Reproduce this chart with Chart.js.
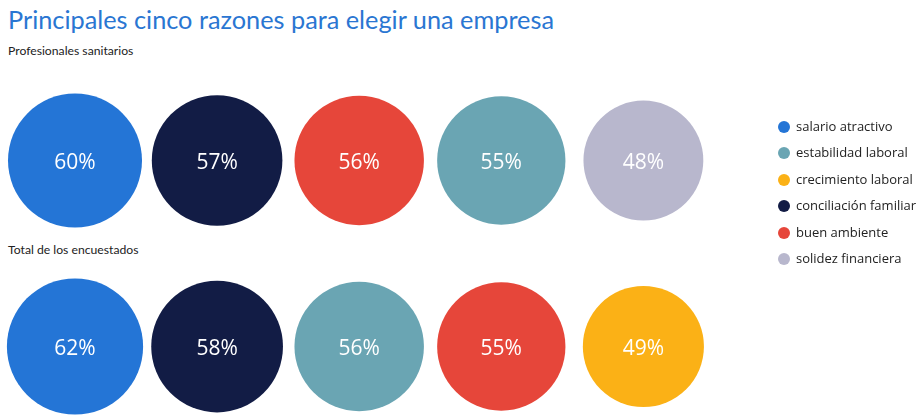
<!DOCTYPE html>
<html>
<head>
<meta charset="utf-8">
<script src="https://cdn.jsdelivr.net/npm/chart.js@4"></script>
<style>
  html, body { margin: 0; padding: 0; background: #fff; }
  #wrap { position: relative; width: 923px; height: 418px; overflow: hidden; }
  #chart { position: absolute; left: 0; top: 0; }
  .title { position: absolute; left: 8px; top: 4px; font: 25.3px "Lato", sans-serif; color: #2a76d2; white-space: nowrap; }
  .sub { position: absolute; left: 8px; font: 12.2px "Lato", sans-serif; color: #222; white-space: nowrap; }
  #legend { position: absolute; left: 778px; top: 117px; font: 13px "Open Sans", sans-serif; color: #222; }
  #legend div { height: 26.4px; line-height: 18px; white-space: nowrap; }
  #legend span { display: inline-block; width: 12px; height: 12px; border-radius: 50%; margin-right: 6px; vertical-align: -2px; }
</style>
</head>
<body>
<div id="wrap">
  <div class="title">Principales cinco razones para elegir una empresa</div>
  <div class="sub" style="top:43px">Profesionales sanitarios</div>
  <div class="sub" style="top:242px">Total de los encuestados</div>
  <canvas id="chart" width="923" height="418"></canvas>
  <div id="legend"></div>
</div>
<script>
// categorías y valores (%)
const categories = ["salario atractivo", "estabilidad laboral", "crecimiento laboral",
                    "conciliación familiar", "buen ambiente", "solidez financiera"];
const colors = ["#2475d6", "#6aa5b3", "#fbb116", "#121c45", "#e6463a", "#b8b7cd"];
const groups = ["Profesionales sanitarios", "Total de los encuestados"];
const sanitarios = [60, 55, null, 57, 56, 48];
const encuestados = [62, 56, 49, 58, 55, null];

const rows = [sanitarios, encuestados];

// posición en la fila = orden de mayor a menor
function rankOf(values, i) {
    let order = values.map((v, k) => k).filter(k => values[k] != null)
        .sort((a, b) => values[b] - values[a]);
    return order.indexOf(i);
}

let datasets = categories.map((cat, i) => {
    let pts = [];
    rows.forEach((vals, r) => {
        if (vals[i] != null) pts.push({ x: rankOf(vals, i), y: r, v: vals[i] });
    });
    return {
        label: cat,
        data: pts,
        backgroundColor: colors[i],
        borderWidth: 0,
        hoverBorderWidth: 0,
        clip: false,
        radius: c => 8.65 * Math.sqrt(c.raw.v)
    };
});

// etiquetas dentro de las burbujas
const bubbleLabels = {
    id: "bubbleLabels",
    afterDatasetsDraw(chart) {
        let ctx = chart.ctx;
        ctx.save();
        ctx.fillStyle = "#fff";
        ctx.font = "21px 'Open Sans', sans-serif";
        ctx.textAlign = "center";
        ctx.textBaseline = "middle";
        chart.data.datasets.forEach((ds, i) => {
            chart.getDatasetMeta(i).data.forEach((el, j) => {
                ctx.fillText(ds.data[j].v + "%", el.x, el.y + 3);
            });
        });
        ctx.restore();
    }
};

new Chart(document.getElementById("chart"), {
    type: "bubble",
    data: { datasets: datasets },
    options: {
        responsive: false,
        animation: false,
        events: [],
        layout: { padding: { left: 70, right: 208, top: 70, bottom: 70 } },
        plugins: { legend: { display: false }, tooltip: { enabled: false } },
        scales: {
            x: { type: "linear", min: -0.0352, max: 4.504, display: false },
            y: { type: "linear", min: -0.4866, max: 1.008, reverse: true, display: false }
        }
    },
    plugins: [bubbleLabels]
});

// leyenda
let legend = document.getElementById("legend");
categories.forEach((cat, i) => {
    let d = document.createElement("div");
    d.innerHTML = '<span style="background:' + colors[i] + '"></span>' + cat;
    legend.appendChild(d);
});
</script>
</body>
</html>
